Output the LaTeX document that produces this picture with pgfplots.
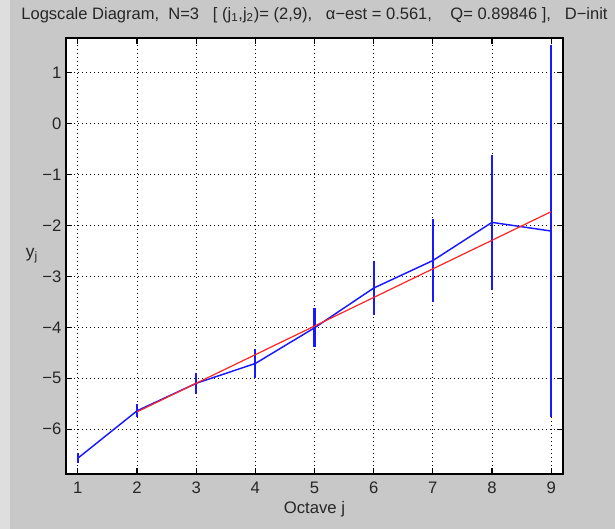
\documentclass[border=0pt]{standalone}
\usepackage{fontspec}
\setmainfont{Liberation Sans}
\usepackage{pgfplots}
\pgfplotsset{compat=1.18}
\definecolor{figbg}{RGB}{200,200,200}
\definecolor{stripbg}{RGB}{222,222,222}
\definecolor{mblue}{RGB}{25,25,255}
\definecolor{mred}{RGB}{255,35,35}

\pgfplotstableread{
j y e
1 -6.57 0.10
2 -5.64 0.13
3 -5.10 0.20
4 -4.71 0.28
5 -4.01 0.38
6 -3.23 0.53
7 -2.69 0.82
8 -1.94 1.33
9 -2.11 3.66
}\ldata

\begin{document}
\begin{tikzpicture}[x=0.75pt,y=0.75pt]
\fill[figbg] (0,0) rectangle (615,529);
\fill[stripbg] (0,0) rectangle (10,529);
\useasboundingbox (0,0) rectangle (615,529);
\begin{axis}[
  at={(49.5pt,41.25pt)}, anchor=south west,
  scale only axis, width=372.75pt, height=327pt,
  xmin=0.8, xmax=9.2, ymin=-6.88, ymax=1.68,
  xtick={1,2,3,4,5,6,7,8,9},
  xticklabels={1,2,3,4,5,6,7,8,9},
  ytick={-6,-5,-4,-3,-2,-1,0,1},
  yticklabels={−6,−5,−4,−3,−2,−1,0,1},
  grid=major,
  grid style={black, line width=0.55pt, dash pattern=on 0.6pt off 2.4pt},
  tick align=inside, major tick length=4.5pt,
  tick style={black, line width=0.8pt},
  axis line style={black, line width=0.9pt},
  axis background/.style={fill=white},
  tick label style={font=\fontsize{12.5}{14}\selectfont, text=black!85},
  xticklabel style={anchor=base, yshift=-15pt},
  title={Logscale Diagram,\ \ N=3\ \ \ [\ (j\textsubscript{1},j\textsubscript{2})= (2,9),\ \ \ α−est = 0.561,\ \ \ \ Q= 0.89846\ ],\ \ \ D−init},
  title style={font=\fontsize{12.4}{14}\selectfont, anchor=base, at={(0.5,1)}, yshift=8.25pt, text=black!85},
  xlabel={Octave j},
  xlabel style={font=\fontsize{12.5}{14}\selectfont, anchor=base, at={(0.5,0)}, yshift=-30pt, text=black!85},
  ylabel={y\textsubscript{j}},
  ylabel style={font=\fontsize{13}{15}\selectfont, rotate=-90, anchor=center, at={(0,0.5)}, xshift=-25.5pt, text=black!85},
]
\addplot[mblue, line width=1.1pt, mark=none,
  error bars/.cd, y dir=both, y explicit, error mark=none,
  error bar style={line width=1.6pt, mblue}]
  table[x=j, y=y, y error=e] {\ldata};
\addplot[mred, line width=0.9pt, mark=none] coordinates {(2,-5.66) (9,-1.73)};
\end{axis}
\end{tikzpicture}
\end{document}
